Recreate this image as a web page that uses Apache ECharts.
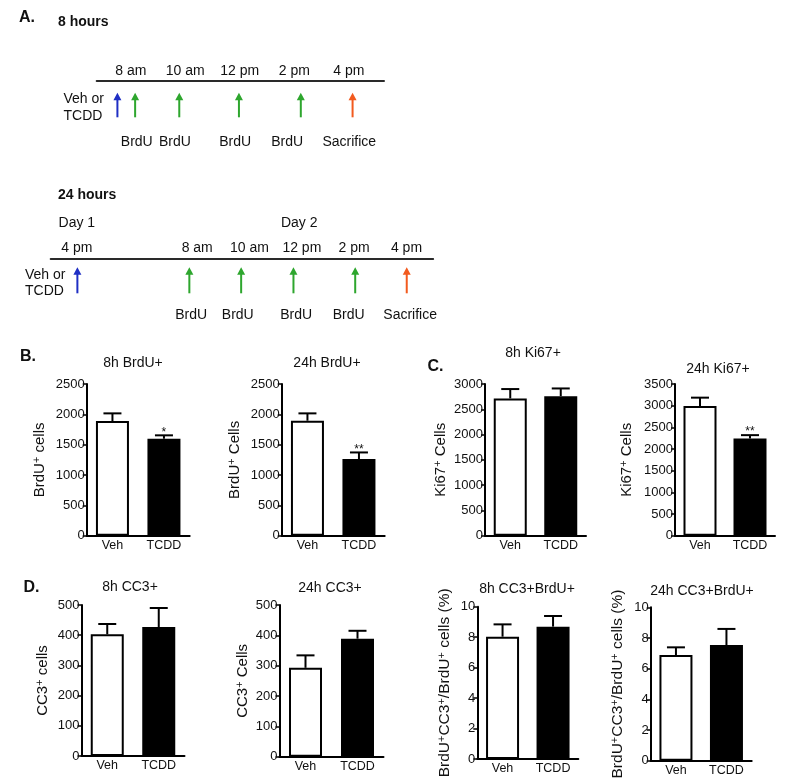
<!DOCTYPE html>
<html><head><meta charset="utf-8">
<script src="https://cdn.jsdelivr.net/npm/echarts@6/dist/echarts.min.js"></script>
<style>html,body{margin:0;padding:0;background:#fff}#c{width:800px;height:784px}</style>
</head><body><div id="c"></div>
<script>
// ================= DATA =================
// Panel A, 8 hours timeline (hours of day)
const tl8TickHours = [8, 10, 12, 14, 16];
const tl8TickLabels = ['8 am', '10 am', '12 pm', '2 pm', '4 pm'];
const tl8ArrowHours = [7.51, 8.16, 9.78, 11.97, 14.24, 16.14];
const tl8ArrowKinds = ['dose', 'brdu', 'brdu', 'brdu', 'brdu', 'sacrifice'];
const tl8NoteHours = [8.22, 9.62, 11.83, 13.74, 16.02];
const tl8NoteLabels = ['BrdU', 'BrdU', 'BrdU', 'BrdU', 'Sacrifice'];

// Panel A, 24 hours timeline: day 1 and day 2 (hours of day)
const tl24Day1TickHours = [16];
const tl24Day1TickLabels = ['4 pm'];
const tl24Day1ArrowHours = [16.02];
const tl24Day1ArrowKinds = ['dose'];
const tl24Day2TickHours = [8, 10, 12, 14, 16];
const tl24Day2TickLabels = ['8 am', '10 am', '12 pm', '2 pm', '4 pm'];
const tl24Day2ArrowHours = [7.7, 9.68, 11.68, 14.04, 16.01];
const tl24Day2ArrowKinds = ['brdu', 'brdu', 'brdu', 'brdu', 'sacrifice'];
const tl24Day2NoteHours = [7.77, 9.55, 11.78, 13.79, 16.14];
const tl24Day2NoteLabels = ['BrdU', 'BrdU', 'BrdU', 'BrdU', 'Sacrifice'];
const tl24Day1LabelHour = [16];
const tl24Day2LabelHour = [11.9];
const tl24DayLabels = ['Day 1', 'Day 2'];

// Bar panels
const groups = ['Veh', 'TCDD'];
const brdu8Mean = [1890, 1598];  const brdu8Err = [126, 56];   const brdu8Sig = ['', '*'];
const brdu24Mean = [1895, 1262]; const brdu24Err = [121, 110]; const brdu24Sig = ['', '**'];
const ki8Mean = [2715, 2760];    const ki8Err = [185, 152];    const ki8Sig = ['', ''];
const ki24Mean = [2995, 2245];   const ki24Err = [190, 75];    const ki24Sig = ['', '**'];
const cc8Mean = [403, 427];      const cc8Err = [34, 63];      const cc8Sig = ['', ''];
const cc24Mean = [293, 389];     const cc24Err = [41, 26];     const cc24Sig = ['', ''];
const dbl8Mean = [8.03, 8.69];   const dbl8Err = [0.81, 0.70]; const dbl8Sig = ['', ''];
const dbl24Mean = [6.89, 7.54];  const dbl24Err = [0.50, 1.05]; const dbl24Sig = ['', ''];

const yTicksBrdU = {max: 2500, interval: 500};
const yTicksKi8 = {max: 3000, interval: 500};
const yTicksKi24 = {max: 3500, interval: 500};
const yTicksCC3 = {max: 500, interval: 100};
const yTicksPct = {max: 10, interval: 2};

// ================= LAYOUT / STYLE =================
const FONT = '"Liberation Sans", Arial, Helvetica, sans-serif';
const INK = '#111';
const COLORS = {dose: '#1f2fc4', brdu: '#2ea62e', sacrifice: '#f25a1e'};

const panels = [
  {title: '8h BrdU+', tx: 133, ty: 363, left: 86.7, top: 384, height: 151.7, width: 103, ticks: yTicksBrdU, name: 'BrdU{s|+} cells', nameGap: 38, mean: brdu8Mean, err: brdu8Err, sig: brdu8Sig},
  {title: '24h BrdU+', tx: 327, ty: 363, left: 281.7, top: 384, height: 151.7, width: 103, ticks: yTicksBrdU, name: 'BrdU{s|+} Cells', nameGap: 38, mean: brdu24Mean, err: brdu24Err, sig: brdu24Sig},
  {title: '8h Ki67+', tx: 533, ty: 353, left: 485, top: 384, height: 151.7, width: 101, ticks: yTicksKi8, name: 'Ki67{s|+} Cells', nameGap: 36, mean: ki8Mean, err: ki8Err, sig: ki8Sig},
  {title: '24h Ki67+', tx: 718, ty: 369, left: 675, top: 384, height: 151.7, width: 100, ticks: yTicksKi24, name: 'Ki67{s|+} Cells', nameGap: 40, mean: ki24Mean, err: ki24Err, sig: ki24Sig},
  {title: '8h CC3+', tx: 130, ty: 587, left: 81.5, top: 605, height: 151, width: 103, ticks: yTicksCC3, name: 'CC3{s|+} cells', nameGap: 30, mean: cc8Mean, err: cc8Err, sig: cc8Sig},
  {title: '24h CC3+', tx: 330, ty: 588, left: 279.5, top: 605, height: 151.7, width: 104, ticks: yTicksCC3, name: 'CC3{s|+} Cells', nameGap: 28, mean: cc24Mean, err: cc24Err, sig: cc24Sig},
  {title: '8h CC3+BrdU+', tx: 527, ty: 589, left: 477.3, top: 606.7, height: 152.3, width: 101, ticks: yTicksPct, name: 'BrdU{s|+}CC3{s|+}/BrdU{s|+} cells (%)', nameGap: 24, nameSize: 15.5, mean: dbl8Mean, err: dbl8Err, sig: dbl8Sig},
  {title: '24h CC3+BrdU+', tx: 702, ty: 591, left: 650.7, top: 607.3, height: 153.4, width: 101, ticks: yTicksPct, name: 'BrdU{s|+}CC3{s|+}/BrdU{s|+} cells (%)', nameGap: 24, nameSize: 15.5, mean: dbl24Mean, err: dbl24Err, sig: dbl24Sig}
];

// timeline grids (px per hour chosen to match the drawing)
const PPH8 = 27.25, PPH24 = 26.16;
const tlGrids = [
  {left: 96.7, lineY: 81, min: 6.75, max: 6.75 + 287.3 / PPH8, pph: PPH8, tickDy: -10.3, tipDy: 11.7, baseDy: 36.3, noteDy: 60.7},
  {left: 50.7, lineY: 259, min: 15, max: 18.2, pph: PPH24, tickDy: -10.7, tipDy: 8.3, baseDy: 34.3, noteDy: 56},
  {left: 50.7 + 3 * PPH24, lineY: 259, min: 5.4, max: 17.02, pph: PPH24, tickDy: -10.7, tipDy: 8.3, baseDy: 34.3, noteDy: 56}
];

const grid = [], xAxis = [], yAxis = [], series = [];

tlGrids.forEach(function (g) {
  grid.push({left: g.left, top: g.lineY - 1, width: (g.max - g.min) * g.pph, height: 1, containLabel: false});
  xAxis.push({type: 'value', gridIndex: grid.length - 1, min: g.min, max: g.max, position: 'bottom',
    axisLine: {show: true, onZero: false, lineStyle: {color: '#2a2a2a', width: 2}},
    axisTick: {show: false}, axisLabel: {show: false}, splitLine: {show: false}});
  yAxis.push({type: 'value', gridIndex: grid.length - 1, min: 0, max: 1, show: false});
});

function textRender(labels, dy, fontSpec) {
  return function (params, api) {
    const p = api.coord([api.value(0), 0]);
    return {type: 'text', x: p[0], y: p[1] + dy,
      style: {text: labels[params.dataIndex], align: 'center', verticalAlign: 'middle', font: fontSpec || ('14px ' + FONT), fill: INK}};
  };
}
function arrowRender(kinds, g) {
  return function (params, api) {
    const p = api.coord([api.value(0), 0]);
    const c = COLORS[kinds[params.dataIndex]];
    const tip = p[1] + g.tipDy, base = p[1] + g.baseDy;
    return {type: 'group', children: [
      {type: 'line', shape: {x1: p[0], y1: tip + 5, x2: p[0], y2: base}, style: {stroke: c, lineWidth: 2}},
      {type: 'polygon', shape: {points: [[p[0], tip], [p[0] - 4, tip + 7.5], [p[0] + 4, tip + 7.5]]}, style: {fill: c}}
    ]};
  };
}
function tlSeries(gi, hours, renderItem) {
  series.push({type: 'custom', xAxisIndex: gi, yAxisIndex: gi, silent: true, clip: false, z: 5,
    data: hours.map(function (h) { return [h, 0]; }), renderItem: renderItem});
}
// 8h timeline
tlSeries(0, tl8TickHours, textRender(tl8TickLabels, tlGrids[0].tickDy));
tlSeries(0, tl8ArrowHours, arrowRender(tl8ArrowKinds, tlGrids[0]));
tlSeries(0, tl8NoteHours, textRender(tl8NoteLabels, tlGrids[0].noteDy));
// 24h timeline
tlSeries(1, tl24Day1TickHours, textRender(tl24Day1TickLabels, tlGrids[1].tickDy));
tlSeries(1, tl24Day1ArrowHours, arrowRender(tl24Day1ArrowKinds, tlGrids[1]));
tlSeries(1, tl24Day1LabelHour, textRender([tl24DayLabels[0]], -36.3));
tlSeries(2, tl24Day2TickHours, textRender(tl24Day2TickLabels, tlGrids[2].tickDy));
tlSeries(2, tl24Day2ArrowHours, arrowRender(tl24Day2ArrowKinds, tlGrids[2]));
tlSeries(2, tl24Day2NoteHours, textRender(tl24Day2NoteLabels, tlGrids[2].noteDy));
tlSeries(2, tl24Day2LabelHour, textRender([tl24DayLabels[1]], -36.3));

// bar panels
panels.forEach(function (p) {
  const gi = grid.length;
  grid.push({left: p.left, top: p.top, width: p.width, height: p.height, containLabel: false});
  xAxis.push({type: 'category', gridIndex: gi, data: groups,
    axisLine: {show: true, lineStyle: {color: '#000', width: 2}},
    axisTick: {show: false},
    axisLabel: {margin: 3, fontSize: 12.5, fontFamily: FONT, color: INK}});
  yAxis.push({type: 'value', gridIndex: gi, min: 0, max: p.ticks.max, interval: p.ticks.interval,
    name: p.name, nameLocation: 'middle', nameRotate: 90, nameGap: p.nameGap,
    nameTextStyle: {fontSize: p.nameSize || 15, fontFamily: FONT, color: INK, lineHeight: 17,
      rich: {s: {fontSize: 11, fontFamily: FONT, color: INK, verticalAlign: 'top', lineHeight: 10}}},
    axisLine: {show: true, lineStyle: {color: '#000', width: 2}},
    axisTick: {show: true, inside: false, length: 4, lineStyle: {color: '#000', width: 1.5}},
    splitLine: {show: false},
    axisLabel: {margin: 2, fontSize: 13, fontFamily: FONT, color: INK,
      formatter: function (v) { return String(v); }}});
  series.push({type: 'bar', xAxisIndex: gi, yAxisIndex: gi, barWidth: 33, silent: true,
    data: p.mean.map(function (v, i) {
      return {value: v, itemStyle: i === 0 ? {color: '#fff', borderColor: '#000', borderWidth: 2} : {color: '#000', borderColor: '#000', borderWidth: 2}};
    })});
  const sig = p.sig;
  series.push({type: 'custom', xAxisIndex: gi, yAxisIndex: gi, silent: true, z: 6,
    data: p.mean.map(function (v, i) { return [i, v, p.err[i]]; }),
    renderItem: function (params, api) {
      const i = api.value(0), m = api.value(1), e = api.value(2);
      const b = api.coord([i, m]), t = api.coord([i, m + e]);
      const kids = [
        {type: 'line', shape: {x1: b[0], y1: b[1], x2: t[0], y2: t[1]}, style: {stroke: '#000', lineWidth: 2}},
        {type: 'line', shape: {x1: t[0] - 9, y1: t[1], x2: t[0] + 9, y2: t[1]}, style: {stroke: '#000', lineWidth: 2}}
      ];
      const s = sig[params.dataIndex];
      if (s) kids.push({type: 'text', x: t[0], y: t[1] - 3,
        style: {text: s, align: 'center', verticalAlign: 'middle', font: '12px ' + FONT, fill: INK}});
      return {type: 'group', children: kids};
    }});
});

// free text
function txt(x, y, text, font, align) {
  return {type: 'text', x: x, y: y, silent: true,
    style: {text: text, font: font, fill: INK, align: align || 'center', verticalAlign: 'middle'}};
}
const graphic = [
  txt(27, 17.5, 'A.', 'bold 16px ' + FONT),
  txt(58, 21.7, '8 hours', 'bold 14px ' + FONT, 'left'),
  txt(58, 195, '24 hours', 'bold 14px ' + FONT, 'left'),
  txt(63.5, 99.3, 'Veh or', '14px ' + FONT, 'left'),
  txt(63.5, 115.7, 'TCDD', '14px ' + FONT, 'left'),
  txt(25, 275, 'Veh or', '14px ' + FONT, 'left'),
  txt(25, 291, 'TCDD', '14px ' + FONT, 'left'),
  txt(28, 357, 'B.', 'bold 16px ' + FONT),
  txt(435.5, 367, 'C.', 'bold 16px ' + FONT),
  txt(31.5, 587.5, 'D.', 'bold 16px ' + FONT)
];
panels.forEach(function (p) { graphic.push(txt(p.tx, p.ty, p.title, '14px ' + FONT)); });

const chart = echarts.init(document.getElementById('c'), null, {renderer: 'canvas'});
chart.setOption({backgroundColor: '#fff', animation: false, textStyle: {fontFamily: FONT},
  grid: grid, xAxis: xAxis, yAxis: yAxis, series: series, graphic: graphic});
</script></body></html>
